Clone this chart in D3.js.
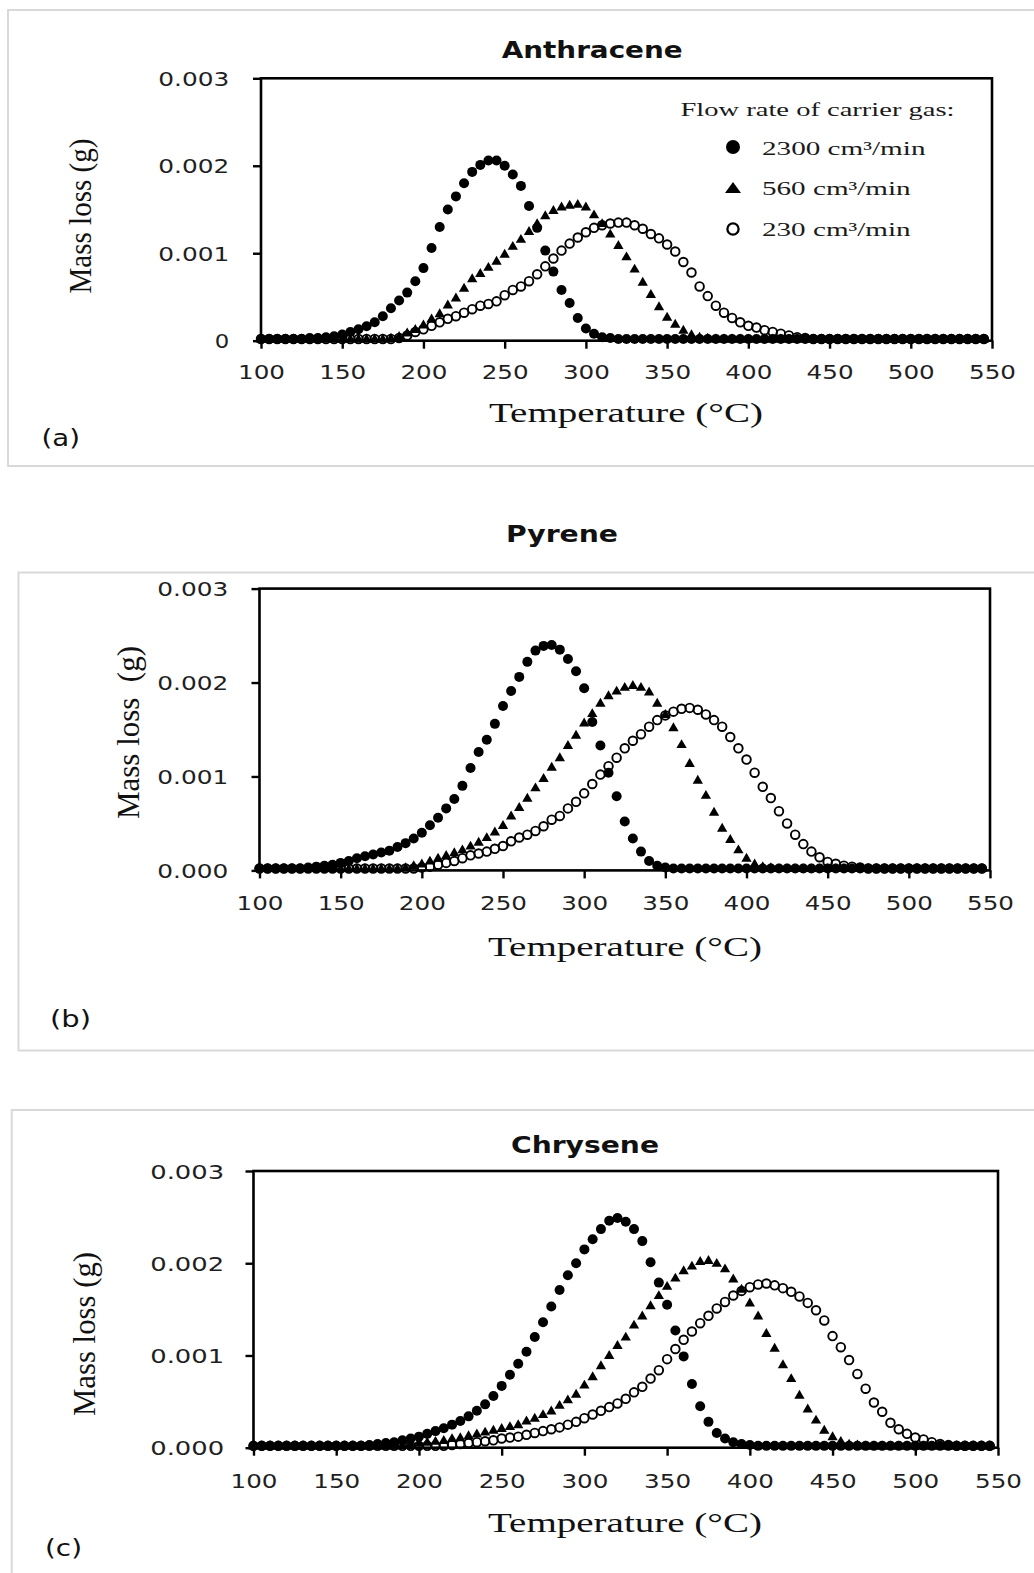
<!DOCTYPE html>
<html>
<head>
<meta charset="utf-8">
<script src="https://cdn.jsdelivr.net/npm/d3@7"></script>
<style>
  body { margin: 0; background: #fff; }
  svg { display: block; }
</style>
</head>
<body>
<svg id="fig" width="1034" height="1573"></svg>
<script>
// Temperature grid (°C) shared by every series
const temperature = [
  100,105,110,115,120,125,130,135,140,145,
  150,155,160,165,170,175,180,185,190,195,
  200,205,210,215,220,225,230,235,240,245,
  250,255,260,265,270,275,280,285,290,295,
  300,305,310,315,320,325,330,335,340,345,
  350,355,360,365,370,375,380,385,390,395,
  400,405,410,415,420,425,430,435,440,445,
  450,455,460,465,470,475,480,485,490,495,
  500,505,510,515,520,525,530,535,540,545
];

// Mass loss (g) — Anthracene
const anthracene2300 = [
  0.00002,0.00002,0.00002,0.00002,0.00002,0.00002,0.00003,0.00003,0.00004,0.00005,
  0.00007,0.00010,0.00013,0.000165,0.00021,0.00028,0.00037,0.00046,0.00055,0.00068,
  0.00083,0.00106,0.00130,0.00150,0.00165,0.00180,0.00193,0.00201,0.00206,0.00206,
  0.00200,0.00190,0.00177,0.00154,0.00129,0.00103,0.00079,0.00058,0.00043,0.00026,
  0.00014,0.00008,0.00004,0.00003,0.00002,0.00002,0.00002,0.00002,0.00002,0.00002,
  0.00002,0.00002,0.00002,0.00002,0.00002,0.00002,0.00002,0.00002,0.00002,0.00002,
  0.00002,0.00002,0.00002,0.00002,0.00002,0.00002,0.00002,0.00002,0.00002,0.00002,
  0.00002,0.00002,0.00002,0.00002,0.00002,0.00002,0.00002,0.00002,0.00002,0.00002,
  0.00002,0.00002,0.00002,0.00002,0.00002,0.00002,0.00002,0.00002,0.00002,0.00002
];
const anthracene560 = [
  0.00002,0.00002,0.00002,0.00002,0.00002,0.00002,0.00002,0.00002,0.00002,0.00002,
  0.00002,0.00002,0.00002,0.00002,0.00002,0.00002,0.00003,0.00005,0.00009,0.00013,
  0.00018,0.00025,0.00031,0.00041,0.00049,0.00060,0.00071,0.00077,0.00084,0.00091,
  0.00099,0.00108,0.00116,0.00125,0.00134,0.00143,0.00149,0.00153,0.00155,0.00156,
  0.00153,0.00144,0.00134,0.00122,0.00109,0.00096,0.00082,0.00067,0.00053,0.00039,
  0.00027,0.00019,0.00012,0.00007,0.00004,0.00003,0.00002,0.00002,0.00002,0.00002,
  0.00002,0.00002,0.00002,0.00002,0.00002,0.00002,0.00002,0.00002,0.00002,0.00002,
  0.00002,0.00002,0.00002,0.00002,0.00002,0.00002,0.00002,0.00002,0.00002,0.00002,
  0.00002,0.00002,0.00002,0.00002,0.00002,0.00002,0.00002,0.00002,0.00002,0.00002
];
const anthracene230 = [
  0.00002,0.00002,0.00002,0.00002,0.00002,0.00002,0.00002,0.00002,0.00002,0.00002,
  0.00002,0.00002,0.00002,0.00002,0.00002,0.00002,0.00002,0.00003,0.00006,0.00010,
  0.00013,0.00017,0.00021,0.00025,0.00028,0.00032,0.00036,0.00040,0.00042,0.00045,
  0.00052,0.00058,0.00062,0.00068,0.00076,0.00085,0.00094,0.00103,0.00111,0.00118,
  0.00124,0.00129,0.00132,0.00134,0.00135,0.00135,0.00132,0.00128,0.00122,0.00117,
  0.00110,0.00102,0.00090,0.00078,0.00062,0.00051,0.00040,0.00032,0.00026,0.00021,
  0.00017,0.00015,0.00012,0.00010,0.00008,0.00006,0.00004,0.00003,0.00002,0.00002,
  0.00002,0.00002,0.00002,0.00002,0.00002,0.00002,0.00002,0.00002,0.00002,0.00002,
  0.00002,0.00002,0.00002,0.00002,0.00002,0.00002,0.00002,0.00002,0.00002,0.00002
];

// Mass loss (g) — Pyrene
const pyrene2300 = [
  0.00002,0.00002,0.00002,0.00002,0.00002,0.00002,0.00003,0.00004,0.00005,0.00006,
  0.00008,0.00010,0.00013,0.00015,0.00017,0.00019,0.00021,0.00025,0.00029,0.00034,
  0.00040,0.00048,0.00056,0.00066,0.00076,0.00090,0.00109,0.00126,0.00139,0.00156,
  0.00175,0.00191,0.00206,0.00222,0.00234,0.00239,0.00240,0.00235,0.00225,0.00212,
  0.00194,0.00158,0.00133,0.00104,0.00079,0.00052,0.00034,0.00020,0.00010,0.00005,
  0.00003,0.00002,0.00002,0.00002,0.00002,0.00002,0.00002,0.00002,0.00002,0.00002,
  0.00002,0.00002,0.00002,0.00002,0.00002,0.00002,0.00002,0.00002,0.00002,0.00002,
  0.00002,0.00002,0.00002,0.00002,0.00002,0.00002,0.00002,0.00002,0.00002,0.00002,
  0.00002,0.00002,0.00002,0.00002,0.00002,0.00002,0.00002,0.00002,0.00002,0.00002
];
const pyrene560 = [
  0.00002,0.00002,0.00002,0.00002,0.00002,0.00002,0.00002,0.00002,0.00002,0.00002,
  0.00002,0.00002,0.00002,0.00002,0.00002,0.00002,0.00002,0.00002,0.00003,0.00005,
  0.00007,0.00010,0.00013,0.00016,0.00019,0.00022,0.00026,0.00030,0.00035,0.00041,
  0.00048,0.00058,0.00067,0.00077,0.00088,0.00098,0.00110,0.00120,0.00133,0.00144,
  0.00157,0.00167,0.00178,0.00186,0.00191,0.00195,0.00197,0.00195,0.00190,0.00178,
  0.00166,0.00152,0.00134,0.00114,0.00096,0.00080,0.00062,0.00045,0.00033,0.00022,
  0.00013,0.00007,0.00004,0.00003,0.00002,0.00002,0.00002,0.00002,0.00002,0.00002,
  0.00002,0.00002,0.00002,0.00002,0.00002,0.00002,0.00002,0.00002,0.00002,0.00002,
  0.00002,0.00002,0.00002,0.00002,0.00002,0.00002,0.00002,0.00002,0.00002,0.00002
];
const pyrene230 = [
  0.00002,0.00002,0.00002,0.00002,0.00002,0.00002,0.00002,0.00002,0.00002,0.00002,
  0.00002,0.00002,0.00002,0.00002,0.00002,0.00002,0.00002,0.00002,0.00002,0.00002,
  0.00003,0.00004,0.00006,0.00008,0.00010,0.00013,0.00016,0.00018,0.00020,0.00023,
  0.00026,0.00031,0.00035,0.00038,0.00042,0.00047,0.00054,0.00058,0.00066,0.00073,
  0.00082,0.00092,0.00102,0.00111,0.00120,0.00130,0.00138,0.00145,0.00153,0.00160,
  0.00165,0.00169,0.00172,0.00173,0.00171,0.00166,0.00160,0.00153,0.00142,0.00130,
  0.00118,0.00104,0.00089,0.00077,0.00063,0.00050,0.00038,0.00028,0.00020,0.00014,
  0.00009,0.00007,0.00005,0.00004,0.00003,0.00002,0.00002,0.00002,0.00002,0.00002,
  0.00002,0.00002,0.00002,0.00002,0.00002,0.00002,0.00002,0.00002,0.00002,0.00002
];

// Mass loss (g) — Chrysene
const chrysene2300 = [
  0.00002,0.00002,0.00002,0.00002,0.00002,0.00002,0.00002,0.00002,0.00002,0.00002,
  0.00002,0.00002,0.00002,0.00002,0.00003,0.00004,0.00005,0.00006,0.00008,0.00010,
  0.00012,0.00015,0.00018,0.00021,0.00025,0.00029,0.00034,0.00040,0.00047,0.00056,
  0.00067,0.00079,0.00091,0.00104,0.00120,0.00136,0.00153,0.00171,0.00187,0.00200,
  0.00215,0.00226,0.00237,0.00246,0.00249,0.00245,0.00237,0.00224,0.00201,0.00179,
  0.00155,0.00127,0.00099,0.00069,0.00045,0.00028,0.00016,0.00010,0.00006,0.00004,
  0.00003,0.00002,0.00002,0.00002,0.00002,0.00002,0.00002,0.00002,0.00002,0.00002,
  0.00002,0.00002,0.00002,0.00002,0.00002,0.00002,0.00002,0.00002,0.00002,0.00002,
  0.00002,0.00002,0.00002,0.00002,0.00002,0.00002,0.00002,0.00002,0.00002,0.00002
];
const chrysene560 = [
  0.00002,0.00002,0.00002,0.00002,0.00002,0.00002,0.00002,0.00002,0.00002,0.00002,
  0.00002,0.00002,0.00002,0.00002,0.00002,0.00002,0.00002,0.00002,0.00003,0.00004,
  0.00005,0.00006,0.00007,0.00008,0.00010,0.00011,0.00013,0.00015,0.00017,0.00019,
  0.00021,0.00023,0.00025,0.00029,0.00032,0.00036,0.00040,0.00046,0.00052,0.00058,
  0.00068,0.00077,0.00089,0.00100,0.00111,0.00120,0.00133,0.00143,0.00154,0.00165,
  0.00175,0.00184,0.00192,0.00197,0.00202,0.00203,0.00200,0.00194,0.00183,0.00172,
  0.00157,0.00143,0.00124,0.00108,0.00090,0.00075,0.00057,0.00042,0.00030,0.00019,
  0.00012,0.00007,0.00004,0.00003,0.00002,0.00002,0.00002,0.00002,0.00002,0.00002,
  0.00002,0.00002,0.00002,0.00002,0.00002,0.00002,0.00002,0.00002,0.00002,0.00002
];
const chrysene230 = [
  0.00002,0.00002,0.00002,0.00002,0.00002,0.00002,0.00002,0.00002,0.00002,0.00002,
  0.00002,0.00002,0.00002,0.00002,0.00002,0.00002,0.00002,0.00002,0.00002,0.00002,
  0.00002,0.00002,0.00002,0.00002,0.00003,0.00004,0.00005,0.00006,0.00007,0.00008,
  0.00010,0.00011,0.00012,0.00014,0.00016,0.00018,0.00020,0.00022,0.00025,0.00028,
  0.00032,0.00036,0.00040,0.00044,0.00048,0.00053,0.00060,0.00066,0.00075,0.00084,
  0.00096,0.00107,0.00117,0.00126,0.00135,0.00143,0.00151,0.00158,0.00165,0.00170,
  0.00174,0.00177,0.00178,0.00176,0.00173,0.00169,0.00164,0.00157,0.00149,0.00138,
  0.00121,0.00109,0.00095,0.00080,0.00064,0.00049,0.00039,0.00027,0.00020,0.00015,
  0.00011,0.00009,0.00006,0.00004,0.00003,0.00002,0.00002,0.00002,0.00002,0.00002
];

// Axis ticks and their labels
const xTickValues = [100,150,200,250,300,350,400,450,500,550];
const xTickLabels = ["100","150","200","250","300","350","400","450","500","550"];
const yTickValues = [0,0.001,0.002,0.003];
const yTickLabelsShort = ["0","0.001","0.002","0.003"];
const yTickLabelsLong  = ["0.000","0.001","0.002","0.003"];

// Compound names, panel tags, legend
const compounds = ["Anthracene","Pyrene","Chrysene"];
const panelTags = ["(a)","(b)","(c)"];
const flowRates = ["2300 cm\u00b3/min","560 cm\u00b3/min","230 cm\u00b3/min"];
const legendHeading = "Flow rate of carrier gas:";

const seriesByPanel = [
  [anthracene2300, anthracene560, anthracene230],
  [pyrene2300, pyrene560, pyrene230],
  [chrysene2300, chrysene560, chrysene230]
];
const yLabelSets = [yTickLabelsShort, yTickLabelsLong, yTickLabelsLong];
const yTitles = ["Mass loss (g)", "Mass loss\u00a0 (g)", "Mass loss (g)"];

// Page geometry of the three framed panels
const layouts = [
  { frame:[8,10,1040,456], plot:{l:261,r:992,t:78.3,b:340.7},
    title:{x:501.7,y:58.3,w:181}, xLabY:38.3, yLabDx:-31.7, yW5:71, yW1:14.5,
    xTitle:{x:489,y:421.7,w:274}, yTitle:{x:91,y:216,len:155},
    tag:{x:41.5,y:446,w:38.5} },
  { frame:[18.5,572.5,1030,478], plot:{l:259.5,r:990,t:588.6,b:870.4},
    title:{x:506,y:542,w:112}, xLabY:40, yLabDx:-31.2, yW5:71, yW1:14.5,
    xTitle:{x:488,y:956,w:274}, yTitle:{x:139,y:732.5,len:173},
    tag:{x:50,y:1027,w:41} },
  { frame:[11.7,1110,1030,480], plot:{l:253.5,r:998,t:1171,b:1447.7},
    title:{x:511,y:1152.7,w:148}, xLabY:40.6, yLabDx:-29.3, yW5:74, yW1:14.5,
    xTitle:{x:488,y:1532,w:274}, yTitle:{x:95,y:1334,len:164},
    tag:{x:45,y:1556,w:37} }
];

const svg = d3.select("#fig");
const SANS = "'DejaVu Sans', Verdana, sans-serif";
const SERIF = "'Liberation Serif', 'Times New Roman', serif";

function fit(sel, width) {
  sel.attr("textLength", width).attr("lengthAdjust", "spacingAndGlyphs");
}

const triPath = d3.symbol().type(d3.symbolTriangle).size(46)();

function drawMarkers(g, kind, pts) {
  if (kind === 0) {
    g.selectAll("circle").data(pts).join("circle")
      .attr("cx", d => d[0]).attr("cy", d => d[1]).attr("r", 5)
      .attr("fill", "#000");
  } else if (kind === 1) {
    g.selectAll("path").data(pts).join("path")
      .attr("d", triPath)
      .attr("transform", d => `translate(${d[0]},${d[1] + 0.6})`)
      .attr("fill", "#000");
  } else {
    g.selectAll("circle").data(pts).join("circle")
      .attr("cx", d => d[0]).attr("cy", d => d[1]).attr("r", 4.3)
      .attr("fill", "none").attr("stroke", "#000").attr("stroke-width", 1.9);
  }
}

layouts.forEach((L, pi) => {
  const P = L.plot;
  const g = svg.append("g");

  // light frame around the panel
  g.append("rect")
    .attr("x", L.frame[0]).attr("y", L.frame[1])
    .attr("width", L.frame[2]).attr("height", L.frame[3])
    .attr("fill", "none").attr("stroke", "#d9d9d9").attr("stroke-width", 2);

  const x = d3.scaleLinear().domain([100, 550]).range([P.l, P.r]);
  const y = d3.scaleLinear().domain([0, 0.003]).range([P.b, P.t]);

  // compound title
  g.append("text").text(compounds[pi])
    .attr("x", L.title.x).attr("y", L.title.y)
    .attr("font-family", SANS).attr("font-weight", "bold").attr("font-size", 23)
    .attr("fill", "#111").call(fit, L.title.w);

  // bottom axis
  const gx = g.append("g").attr("transform", `translate(0,${P.b})`)
    .call(d3.axisBottom(x).tickValues(xTickValues).tickSize(8)
      .tickFormat((d, i) => xTickLabels[i]));
  gx.select(".domain").remove();
  gx.selectAll(".tick line").attr("stroke", "#000").attr("stroke-width", 2.4);
  gx.selectAll(".tick text")
    .attr("font-family", SANS).attr("font-size", 20).attr("fill", "#1f1f1f")
    .attr("y", L.xLabY).attr("dy", null)
    .attr("text-anchor", "start").attr("x", -23.5).call(fit, 47);

  // left axis
  const labels = yLabelSets[pi];
  const gy = g.append("g").attr("transform", `translate(${P.l},0)`)
    .call(d3.axisLeft(y).tickValues(yTickValues).tickSize(8)
      .tickFormat((d, i) => labels[i]));
  gy.select(".domain").remove();
  gy.selectAll(".tick line").attr("stroke", "#000").attr("stroke-width", 2.4);
  gy.selectAll(".tick text").each(function(d, i) {
    const w = labels[i].length === 1 ? L.yW1 : L.yW5;
    d3.select(this)
      .attr("font-family", SANS).attr("font-size", 20).attr("fill", "#1f1f1f")
      .attr("text-anchor", "start").attr("x", L.yLabDx - w).attr("dy", "0.36em")
      .call(fit, w);
  });

  // data markers: 2300, 560, 230 cm3/min
  seriesByPanel[pi].forEach((vals, si) => {
    const pts = temperature.map((t, k) => [x(t), y(vals[k])]);
    drawMarkers(g.append("g"), si, pts);
  });

  // plot box
  g.append("rect")
    .attr("x", P.l).attr("y", P.t)
    .attr("width", P.r - P.l).attr("height", P.b - P.t)
    .attr("fill", "none").attr("stroke", "#000").attr("stroke-width", 2.6);

  // axis titles
  g.append("text").text("Temperature (\u00b0C)")
    .attr("x", L.xTitle.x).attr("y", L.xTitle.y)
    .attr("font-family", SERIF).attr("font-size", 28).attr("fill", "#111")
    .call(fit, L.xTitle.w);

  g.append("text").text(yTitles[pi])
    .attr("transform", `translate(${L.yTitle.x},${L.yTitle.y}) rotate(-90)`)
    .attr("text-anchor", "middle")
    .attr("font-family", SERIF).attr("font-size", 31).attr("fill", "#111")
    .call(fit, L.yTitle.len);

  // panel tag
  g.append("text").text(panelTags[pi])
    .attr("x", L.tag.x).attr("y", L.tag.y)
    .attr("font-family", SANS).attr("font-size", 23).attr("fill", "#111")
    .call(fit, L.tag.w);

  // legend (first panel only)
  if (pi === 0) {
    const lg = g.append("g");
    lg.append("text").text(legendHeading)
      .attr("x", 680.5).attr("y", 115.5)
      .attr("font-family", SERIF).attr("font-size", 19.5).attr("fill", "#1a1a1a")
      .call(fit, 274);
    const rowsY = [147, 187.5, 229];
    const textY = [154.5, 194.5, 235.5];
    const textW = [163.5, 148.7, 148.7];
    lg.append("circle").attr("cx", 733).attr("cy", rowsY[0]).attr("r", 7).attr("fill", "#000");
    lg.append("path").attr("d", "M-8,5.5L0,-5.5L8,5.5Z")
      .attr("transform", `translate(733,${rowsY[1]})`).attr("fill", "#000");
    lg.append("circle").attr("cx", 733).attr("cy", rowsY[2]).attr("r", 5.6)
      .attr("fill", "none").attr("stroke", "#000").attr("stroke-width", 2.3);
    flowRates.forEach((s, i) => {
      lg.append("text").text(s)
        .attr("x", 762).attr("y", textY[i])
        .attr("font-family", SERIF).attr("font-size", 19.5).attr("fill", "#1a1a1a")
        .call(fit, textW[i]);
    });
  }
});
</script>
</body>
</html>
